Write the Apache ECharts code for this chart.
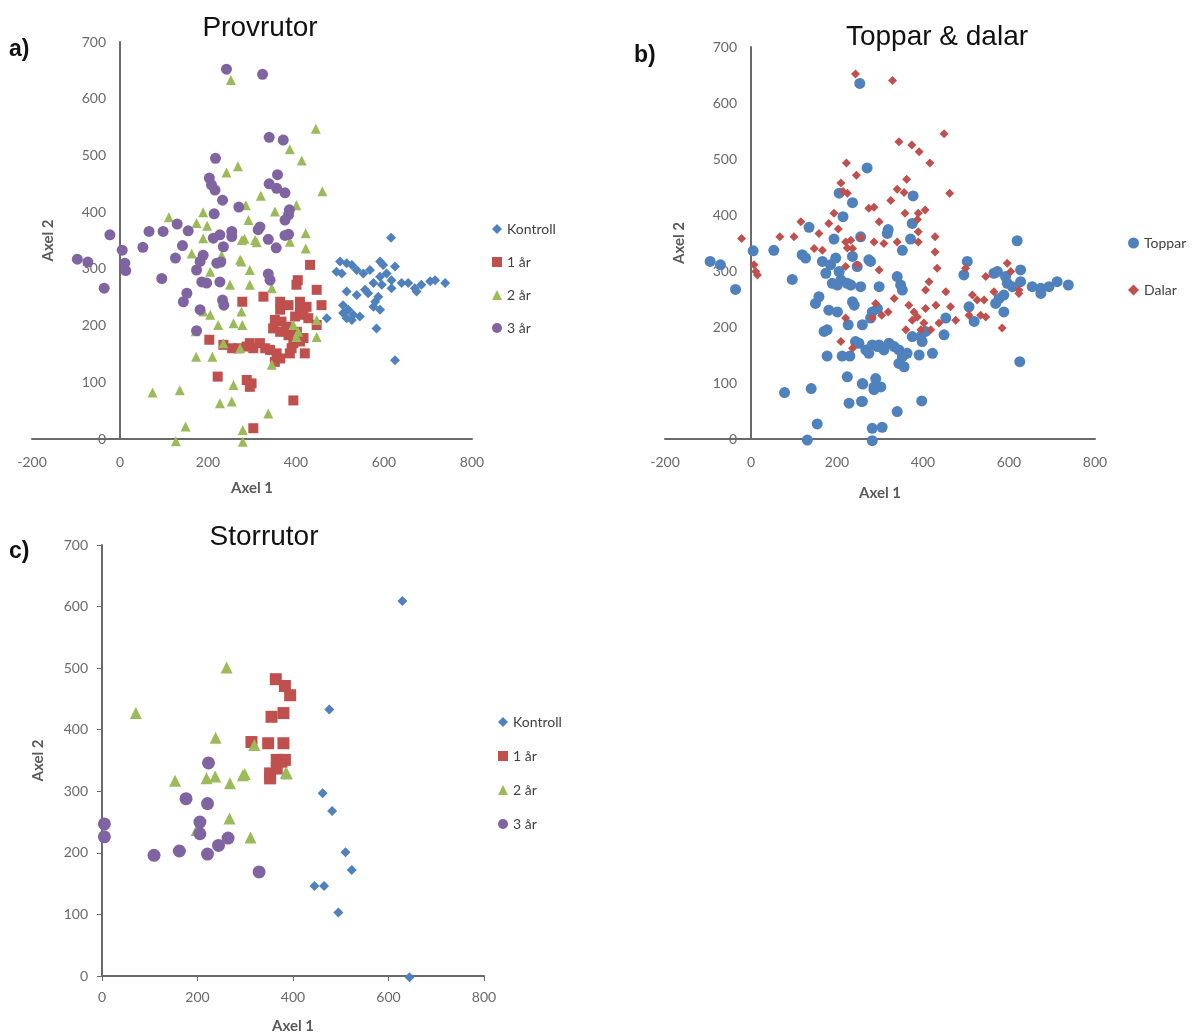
<!DOCTYPE html>
<html>
<head>
<meta charset="utf-8">
<script src="https://cdn.jsdelivr.net/npm/echarts@6/dist/echarts.min.js"></script>
<style>
  html, body { margin: 0; padding: 0; background: #fff; }
  #chart { width: 1201px; height: 1035px; }
</style>
</head>
<body>
<div id="chart"></div>
<script>
// a) Provrutor
const provKontroll = [[500,313],[515,310],[527,307],[492,295],[504,292],[538,298],[553,292],[568,298],[591,313],[598,307],[625,304],[606,292],[591,286],[617,280],[576,275],[595,272],[617,266],[640,275],[655,275],[670,266],[674,260],[685,272],[705,278],[716,280],[739,275],[515,260],[538,254],[557,263],[564,257],[587,251],[580,242],[576,233],[591,228],[507,236],[519,228],[507,222],[530,219],[545,216],[515,213],[527,210],[583,195],[625,139],[616,355],[470,213]]
const prov1ar = [[278,242],[432,307],[404,280],[401,272],[447,263],[326,251],[364,242],[364,228],[383,236],[409,242],[409,228],[424,233],[417,219],[458,236],[352,210],[367,207],[379,198],[398,216],[428,213],[447,201],[348,195],[364,189],[383,183],[402,189],[417,178],[394,169],[409,172],[203,175],[235,166],[269,160],[288,163],[295,169],[303,160],[318,169],[330,160],[341,157],[356,151],[364,142],[386,151],[420,151],[390,160],[352,136],[222,110],[288,104],[295,92],[299,98],[394,68],[303,19],[255,160]]
const prov2ar = [[252,633],[445,547],[386,511],[413,491],[242,470],[268,481],[460,437],[320,429],[286,412],[401,412],[352,401],[189,400],[111,391],[174,381],[198,376],[292,386],[422,363],[422,336],[283,353],[307,351],[311,347],[386,348],[189,354],[163,327],[231,324],[277,351],[273,316],[205,295],[250,272],[276,313],[295,298],[345,266],[295,272],[189,225],[205,219],[223,201],[258,204],[278,201],[276,225],[172,190],[173,145],[210,145],[394,201],[405,189],[401,180],[447,210],[447,180],[235,169],[273,160],[345,131],[258,95],[227,63],[254,66],[74,82],[136,86],[337,45],[149,22],[127,-4],[279,16],[279,-5]]
const prov3ar = [[242,652],[324,643],[217,495],[339,532],[371,527],[203,460],[208,448],[216,439],[358,466],[339,450],[356,442],[375,434],[233,421],[270,409],[214,397],[385,404],[383,395],[375,386],[318,374],[314,369],[375,359],[383,361],[337,352],[355,337],[-23,360],[5,333],[66,366],[98,366],[130,379],[155,367],[52,338],[-97,317],[-73,312],[-36,266],[11,310],[13,297],[126,319],[142,341],[95,283],[152,257],[144,242],[182,228],[174,191],[189,324],[182,313],[174,298],[186,277],[197,275],[227,277],[233,245],[236,236],[220,310],[229,312],[212,354],[227,360],[254,366],[254,357],[235,339],[337,291],[341,280]]

// b) Toppar & dalar
const toppar = [[253,635],[270,484],[205,439],[236,422],[214,397],[135,378],[193,357],[5,336],[53,337],[119,329],[127,323],[-95,317],[-71,311],[-36,267],[96,285],[166,317],[185,311],[197,323],[174,296],[205,299],[209,284],[189,278],[201,275],[224,278],[232,275],[255,272],[278,317],[236,326],[247,308],[158,254],[150,242],[181,230],[201,227],[236,245],[240,239],[282,227],[294,233],[226,204],[259,204],[170,192],[177,195],[243,174],[177,148],[212,148],[230,148],[270,159],[274,153],[294,165],[224,111],[260,98],[286,88],[78,83],[140,90],[228,64],[257,67],[154,27],[131,-2],[282,19],[282,-3],[375,385],[319,374],[317,367],[371,357],[352,337],[255,361],[377,434],[274,320],[340,290],[348,275],[352,266],[298,272],[278,216],[453,216],[449,186],[251,171],[267,159],[282,168],[298,168],[309,159],[321,171],[333,165],[344,159],[352,147],[363,153],[344,135],[356,129],[375,183],[395,183],[406,192],[398,174],[391,150],[422,153],[259,99],[286,93],[302,93],[290,108],[259,67],[397,68],[340,49],[305,21],[503,317],[495,293],[507,236],[519,210],[565,296],[573,299],[592,290],[596,278],[608,272],[627,302],[627,281],[569,242],[577,251],[588,257],[588,227],[654,272],[674,260],[674,269],[693,272],[712,281],[738,275],[625,138],[619,354]]
const dalar = [[243,652],[329,640],[222,493],[245,471],[209,457],[214,442],[224,439],[193,403],[203,375],[181,385],[158,367],[116,388],[100,361],[67,361],[220,352],[232,355],[255,360],[274,412],[286,414],[-22,358],[147,340],[166,337],[236,340],[449,545],[344,531],[374,525],[391,513],[416,493],[362,464],[340,446],[356,440],[462,439],[325,426],[358,403],[389,403],[405,409],[298,388],[387,392],[389,370],[389,352],[428,361],[286,352],[309,349],[340,352],[428,334],[7,311],[11,299],[15,293],[220,308],[247,311],[224,341],[282,216],[290,242],[220,216],[209,174],[236,162],[433,305],[298,302],[414,281],[406,266],[453,263],[333,251],[367,239],[379,227],[406,233],[430,239],[464,236],[360,195],[375,212],[387,218],[402,207],[418,195],[395,195],[476,212],[437,207],[304,221],[319,227],[499,305],[515,257],[526,248],[507,221],[546,290],[542,248],[546,218],[534,221],[565,263],[596,314],[604,299],[623,266],[623,260],[584,198]]

// c) Storrutor
const storKontroll = [[629,609],[476,433],[462,297],[482,268],[510,201],[523,172],[445,146],[465,146],[495,103],[644,-2]]
const stor1ar = [[364,482],[383,471],[394,456],[355,421],[380,427],[313,380],[348,378],[380,378],[366,351],[383,351],[352,329],[352,321],[366,337],[376,348]]
const stor2ar = [[261,501],[71,427],[238,387],[319,375],[387,329],[153,317],[219,321],[237,324],[268,313],[295,326],[299,328],[385,330],[198,237],[267,256],[311,225]]
const stor3ar = [[223,346],[5,247],[5,226],[176,288],[221,280],[205,250],[205,231],[109,196],[162,203],[221,198],[244,212],[264,224],[329,169]]

const BLUE = '#4f81bd', RED = '#c0504d', GREEN = '#9bbb59', PURPLE = '#8064a2'
const labelFont = 'Lato, "Noto Sans", sans-serif'
const titleFont = '"Liberation Sans", Arial, sans-serif'

const el = document.getElementById('chart')
const chart = echarts.init(el)

function xAxis(idx, min, ticks, gap) {
	return {
		gridIndex: idx, type: 'value', min: min, max: 800, interval: 200,
		name: 'Axel 1', nameLocation: 'middle', nameGap: gap,
		nameTextStyle: { fontFamily: labelFont, fontWeight: 'bold', fontSize: 15, color: '#5a5a5a' },
		axisLine: { onZero: false, lineStyle: { color: '#6a6a6a', width: 2 } },
		axisTick: { show: ticks, length: 5, inside: false, lineStyle: { color: '#6a6a6a' } },
		axisLabel: { fontFamily: labelFont, fontSize: 14, color: '#6a6a6a', margin: ticks ? 14 : 16 },
		splitLine: { show: false },
	}
}
// the y axis sits at x = 0, so it is shifted right with a negative offset
function yAxis(idx, ticks, gap, offset) {
	return {
		gridIndex: idx, type: 'value', min: 0, max: 700, interval: 100, offset: offset,
		name: 'Axel 2', nameLocation: 'middle', nameGap: gap,
		nameTextStyle: { fontFamily: labelFont, fontWeight: 'bold', fontSize: 15, color: '#5a5a5a' },
		axisLine: { onZero: false, lineStyle: { color: '#6a6a6a', width: 2 } },
		axisTick: { show: ticks, length: 5, lineStyle: { color: '#6a6a6a' } },
		axisLabel: { fontFamily: labelFont, fontSize: 14, color: '#6a6a6a', margin: 14 },
		splitLine: { show: false },
	}
}
function sc(name, idx, data, symbol, color, size) {
	return {
		name: name, type: 'scatter', xAxisIndex: idx, yAxisIndex: idx,
		data: data, symbol: symbol, symbolSize: size, clip: false,
		itemStyle: { color: color, opacity: 1 },
	}
}
const legendText = { fontFamily: labelFont, fontSize: 14, color: '#404040' }
const gridBase = { outerBoundsMode: 'none', containLabel: false }

const opt = {
	animation: false,
	backgroundColor: '#fff',
	grid: [
		Object.assign({ left: 32, top: 42, width: 440, height: 397 }, gridBase),
		Object.assign({ left: 665, top: 47, width: 430, height: 392 }, gridBase),
		Object.assign({ left: 102, top: 545, width: 382, height: 431 }, gridBase),
	],
	xAxis: [xAxis(0, -200, false, 42), xAxis(1, -200, false, 47), xAxis(2, 0, true, 43)],
	yAxis: [yAxis(0, false, 64, -88), yAxis(1, false, 64, -86), yAxis(2, true, 56, 0)],
	legend: [
		{ left: 487, top: 217, orient: 'vertical', itemGap: 19, itemWidth: 10, itemHeight: 10, textStyle: legendText,
		  data: ['Kontroll', '1 år', '2 år', '3 år'] },
		{ left: 1123, top: 231, orient: 'vertical', itemGap: 33, itemWidth: 11, itemHeight: 11, textStyle: legendText,
		  data: ['Toppar', 'Dalar'] },
		{ left: 493, top: 710, orient: 'vertical', itemGap: 20, itemWidth: 10, itemHeight: 10, textStyle: legendText,
		  data: ['Kontroll', '1 år', '2 år', '3 år'] },
	],
	graphic: [
		{ type: 'text', x: 260, y: 28, style: { text: 'Provrutor', font: '28px ' + titleFont, fill: '#111', textAlign: 'center', textVerticalAlign: 'middle' } },
		{ type: 'text', x: 9, y: 50, style: { text: 'a)', font: 'bold 23px ' + titleFont, fill: '#111', textVerticalAlign: 'middle' } },
		{ type: 'text', x: 937, y: 37, style: { text: 'Toppar & dalar', font: '28px ' + titleFont, fill: '#111', textAlign: 'center', textVerticalAlign: 'middle' } },
		{ type: 'text', x: 634, y: 56, style: { text: 'b)', font: 'bold 23px ' + titleFont, fill: '#111', textVerticalAlign: 'middle' } },
		{ type: 'text', x: 264, y: 537, style: { text: 'Storrutor', font: '28px ' + titleFont, fill: '#111', textAlign: 'center', textVerticalAlign: 'middle' } },
		{ type: 'text', x: 9, y: 552, style: { text: 'c)', font: 'bold 23px ' + titleFont, fill: '#111', textVerticalAlign: 'middle' } },
	],
	series: [
		sc('Kontroll', 0, provKontroll, 'diamond', BLUE, 10),
		sc('1 år', 0, prov1ar, 'rect', RED, 10),
		sc('2 år', 0, prov2ar, 'triangle', GREEN, 10),
		sc('3 år', 0, prov3ar, 'circle', PURPLE, 11),
		sc('Toppar', 1, toppar, 'circle', BLUE, 11),
		sc('Dalar', 1, dalar, 'diamond', RED, 9),
		sc('Kontroll', 2, storKontroll, 'diamond', BLUE, 10),
		sc('1 år', 2, stor1ar, 'rect', RED, 12),
		sc('2 år', 2, stor2ar, 'triangle', GREEN, 12),
		sc('3 år', 2, stor3ar, 'circle', PURPLE, 13),
	],
}
chart.setOption(opt)
</script>
</body>
</html>
